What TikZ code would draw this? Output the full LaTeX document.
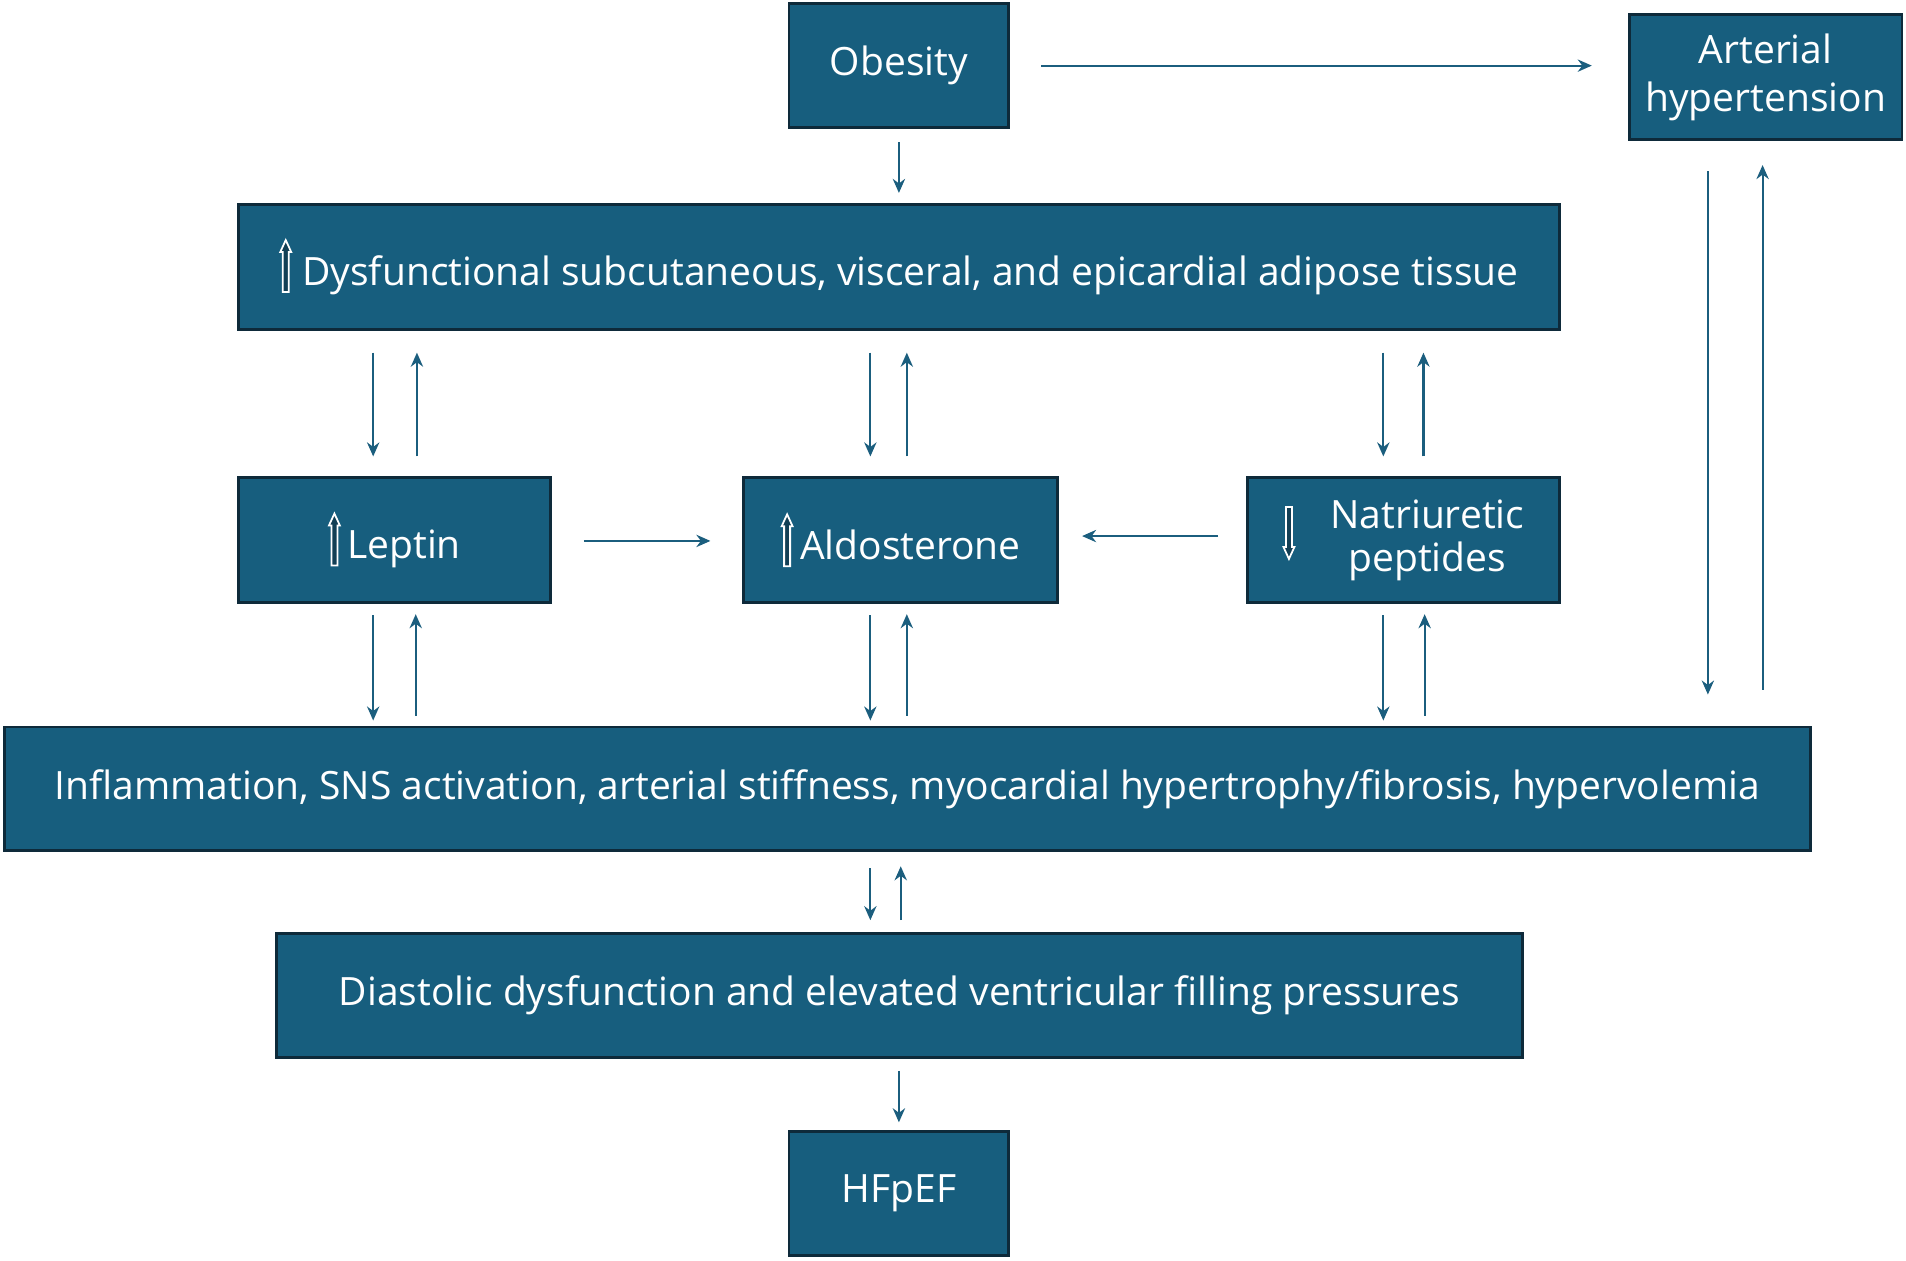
\documentclass[tikz,border=0pt]{standalone}
\usepackage{fontspec}
\setmainfont{Open Sans}
\usetikzlibrary{arrows.meta}
\definecolor{boxfill}{HTML}{175E7E}
\definecolor{boxline}{HTML}{0E2A3A}
\definecolor{arrcol}{HTML}{1B5E7E}
\tikzset{
  blk/.style={draw=boxline, line width=0.8pt, fill=boxfill, text=white,
    font=\fontsize{11.1}{13.6}\selectfont, align=center, inner sep=0pt},
  arr/.style={draw=arrcol, line width=0.6pt, -{Stealth[length=4pt,width=3.5pt]}}
}
% hollow up / down arrow glyphs
\newcommand{\upar}{\tikz[baseline=0.07cm, x=1cm, y=1cm]\draw[white, line width=0.5pt, fill=boxline!60!boxfill]
  (-0.03,0) -- (0.03,0) -- (0.03,0.4) -- (0.055,0.4) -- (0,0.52) -- (-0.055,0.4) -- (-0.03,0.4) -- cycle;}
\newcommand{\dnar}{\tikz[baseline=0.07cm, x=1cm, y=-1cm]\draw[white, line width=0.5pt, fill=boxline!60!boxfill]
  (-0.03,-0.5) -- (0.03,-0.5) -- (0.03,-0.1) -- (0.055,-0.1) -- (0,0.02) -- (-0.055,-0.1) -- (-0.03,-0.1) -- cycle;}
\begin{document}
\begin{tikzpicture}[x=0.012155cm, y=-0.012155cm]
  \useasboundingbox (0,0) rectangle (1568,1036.6);
  \path[fill=white] (0,0) rectangle (1568,1036.6);
  % boxes
  \node[blk, minimum width=2.20cm, minimum height=1.24cm] (obes) at (739.5,54) {Obesity};
  \node[blk, minimum width=2.73cm, minimum height=1.25cm] (art) at (1452.5,63.5) {Arterial\\hypertension};
  \node[blk, minimum width=13.21cm, minimum height=1.25cm] (dys) at (739.5,219.5)
    {\upar\ Dysfunctional subcutaneous, visceral, and epicardial adipose tissue};
  \node[blk, minimum width=3.12cm, minimum height=1.25cm] (lep) at (324.5,444.5) {\upar\,Leptin};
  \node[blk, minimum width=3.14cm, minimum height=1.25cm] (ald) at (741,444.5) {\upar\,Aldosterone};
  \node[blk, minimum width=3.12cm, minimum height=1.25cm] (nat) at (1154.5,444.5)
    {\dnar\hspace{0.9em}\begin{tabular}{@{}c@{}}Natriuretic\\[-0.25ex]peptides\end{tabular}};
  \node[blk, minimum width=18.07cm, minimum height=1.24cm] (inf) at (746.5,649)
    {Inflammation, SNS activation, arterial stiffness, myocardial hypertrophy/fibrosis, hypervolemia};
  \node[blk, minimum width=12.46cm, minimum height=1.24cm] (dia) at (740,819)
    {Diastolic dysfunction and elevated ventricular filling pressures};
  \node[blk, minimum width=2.20cm, minimum height=1.24cm] (hf) at (739.5,982) {HFpEF};
  % connectors
  \draw[arr, shorten <=0.31cm, shorten >=0.36cm] (obes.east) -- (art.west |- obes.east);
  \draw[arr, shorten <=0.13cm, shorten >=0.1cm] (obes.south) -- (dys.north -| obes.south);
  \foreach \x/\b in {307/lep, 716/ald, 1138/nat}
    \draw[arr, shorten <=0.22cm, shorten >=0.2cm] (dys.south -| \x,0) -- (\b.north -| \x,0);
  \foreach \x/\b in {343/lep, 746/ald, 1171/nat}
    \draw[arr, shorten <=0.2cm, shorten >=0.22cm] (\b.north -| \x,0) -- (dys.south -| \x,0);
  \foreach \x/\b in {307/lep, 716/ald, 1138/nat}
    \draw[arr, shorten <=0.11cm, shorten >=0.05cm] (\b.south -| \x,0) -- (inf.north -| \x,0);
  \foreach \x/\b in {342/lep, 746/ald, 1172/nat}
    \draw[arr, shorten <=0.1cm, shorten >=0.1cm] (inf.north -| \x,0) -- (\b.south -| \x,0);
  \draw[arr, shorten <=0.3cm, shorten >=0.31cm] (art.south -| 1405,0) -- (inf.north -| 1405,0);
  \draw[arr, shorten <=0.36cm, shorten >=0.24cm] (inf.north -| 1450,0) -- (art.south -| 1450,0);
  \draw[arr, shorten <=0.32cm, shorten >=0.32cm] (lep.east |- 0,445) -- (ald.west |- 0,445);
  \draw[arr, shorten <=0.28cm, shorten >=0.23cm] (nat.west |- 0,441) -- (ald.east |- 0,441);
  \draw[arr, shorten <=0.16cm, shorten >=0.12cm] (inf.south -| 716,0) -- (dia.north -| 716,0);
  \draw[arr, shorten <=0.12cm, shorten >=0.14cm] (dia.north -| 741,0) -- (inf.south -| 741,0);
  \draw[arr, shorten <=0.12cm, shorten >=0.08cm] (dia.south -| hf.north) -- (hf.north);
\end{tikzpicture}
\end{document}
